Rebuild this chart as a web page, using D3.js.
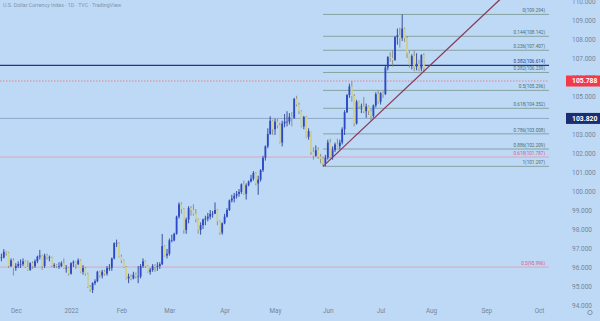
<!DOCTYPE html>
<html lang="en">
<head>
<meta charset="UTF-8">
<title>U.S. Dollar Currency Index</title>
<script src="https://d3js.org/d3.v7.min.js"></script>
<style>
    html, body {
    margin:0;
    padding:0;
    background:#bdd9f6;
    }
    svg {
    display:block;
    font-family: Roboto, "Liberation Sans", sans-serif;
    }
</style>
</head>
<body>
<svg width="600" height="321"></svg>
<script>
// daily candles, Nov 19 2021 -> Jul 27 2022 (weekdays)
var firstDay = "2021-11-19";
var opens = [
95.55,96.05,96.50,96.50,96.80,96.75,96.05,96.35,
95.95,96.05,96.15,96.15,96.30,96.00,95.85,96.20,96.05,96.30,96.55,96.60,96.05,96.60,96.50,96.50,96.05,96.10,96.05,96.05,96.20,95.95,95.95,
95.65,96.20,96.25,96.15,96.35,95.75,95.95,95.65,94.95,94.80,95.15,95.25,95.75,95.55,95.75,95.65,95.95,95.95,96.45,97.25,97.25,
96.55,96.35,96.00,95.40,95.50,95.40,95.60,95.50,95.50,96.05,96.30,96.05,95.75,95.85,96.05,96.00,96.05,96.15,97.10,96.60,
96.70,97.40,97.40,97.75,98.65,99.30,99.05,97.95,98.50,99.10,99.00,98.80,98.50,97.95,98.20,98.50,98.55,98.65,98.80,98.80,99.00,98.40,97.80,
98.30,98.65,99.00,99.50,99.60,99.75,99.85,99.95,100.35,99.85,100.30,100.50,100.65,100.95,100.40,100.60,101.10,101.75,102.35,103.00,103.70,
103.25,103.65,103.45,102.55,103.55,103.65,103.65,103.90,103.85,104.85,104.55,104.20,103.40,103.90,102.85,103.15,102.05,101.85,102.15,101.80,101.70,101.45,
101.75,102.55,101.80,102.15,102.45,102.35,102.55,103.25,104.15,105.05,105.50,105.00,103.55,104.70,104.45,104.45,104.20,104.45,104.20,103.95,104.50,105.10,
104.70,105.15,105.10,106.50,107.05,107.00,106.90,108.10,108.20,108.05,108.55,108.05,107.25,106.65,107.10,106.55,106.70,106.45,107.15
];
var highs = [
96.20,96.55,96.70,96.94,96.85,96.80,96.45,96.45,
96.20,96.30,96.40,96.45,96.35,96.35,96.25,96.30,96.40,96.60,96.90,96.65,96.70,96.70,96.60,96.55,96.20,96.15,96.25,96.30,96.45,96.10,96.00,
96.25,96.35,96.30,96.45,96.40,96.10,96.00,95.70,95.05,95.20,95.35,95.80,95.80,95.85,95.85,96.05,96.15,96.50,97.30,97.44,97.30,
96.65,96.40,96.05,95.65,95.60,95.75,95.70,96.05,96.15,96.45,96.35,96.10,95.95,96.15,96.15,96.25,96.25,97.74,97.15,96.95,
97.50,97.70,97.80,98.70,99.40,99.40,99.10,98.60,99.20,99.20,99.30,99.05,98.55,98.35,98.55,98.70,98.85,99.00,98.95,99.40,99.05,98.45,98.35,
98.80,99.10,99.55,99.80,99.90,100.00,100.10,100.40,100.55,100.40,100.55,100.85,101.05,101.00,100.80,101.15,101.85,102.40,103.30,103.93,103.75,
103.80,103.80,103.60,103.70,104.05,104.20,104.10,104.15,104.90,105.01,104.65,104.25,103.95,103.95,103.30,103.15,102.30,102.40,102.30,101.95,101.80,101.90,
102.70,102.75,102.35,102.55,102.75,102.70,103.35,104.25,105.10,105.65,105.79,105.10,104.80,104.75,104.60,104.95,104.60,104.50,104.30,104.55,105.20,105.30,
105.20,105.25,106.60,107.10,107.30,107.40,108.15,108.55,108.60,109.294,108.60,108.15,107.40,107.20,107.40,107.25,106.90,107.20,107.25
];
var lows = [
95.50,95.95,96.30,96.45,96.60,95.95,96.00,95.55,
95.80,95.95,95.95,96.05,95.95,95.80,95.80,95.90,95.95,96.20,96.40,95.85,95.95,96.40,96.30,96.00,95.95,95.95,95.90,96.00,95.90,95.70,95.55,
95.60,96.00,95.90,96.10,95.70,95.60,95.55,94.90,94.70,94.63,95.05,95.20,95.45,95.40,95.55,95.55,95.80,95.80,96.40,97.05,96.50,
96.20,95.95,95.35,95.15,95.30,95.35,95.40,95.15,95.40,95.95,95.95,95.70,95.60,95.75,95.75,95.80,95.90,96.10,96.55,96.45,
96.60,97.30,97.35,97.70,98.55,98.80,97.75,97.75,98.30,98.70,98.70,98.35,97.75,97.70,98.00,98.20,98.40,98.50,98.60,98.80,98.20,97.70,97.70,
98.25,98.60,98.95,99.40,99.40,99.60,99.70,99.85,99.80,99.55,100.25,100.45,100.55,100.30,99.80,100.50,101.00,101.60,102.25,102.95,102.95,
102.95,103.30,102.50,102.35,103.35,103.40,103.50,103.40,103.80,104.45,104.05,103.35,103.25,102.80,102.70,101.90,101.65,101.80,101.70,101.45,101.297,101.30,
101.65,101.70,101.65,102.05,102.30,102.20,102.45,102.95,104.10,104.90,104.70,103.40,103.50,104.35,104.10,104.10,103.85,104.00,103.70,103.85,104.40,104.60,
104.55,104.90,105.05,106.35,106.80,106.55,106.85,107.70,107.55,107.90,107.85,107.00,106.50,106.40,106.30,106.35,106.30,106.30,106.25
];
var closes = [
96.05,96.50,96.50,96.80,96.75,96.05,96.35,95.95,
96.05,96.15,96.15,96.30,96.00,95.85,96.20,96.05,96.30,96.55,96.60,96.05,96.60,96.50,96.50,96.05,96.10,96.05,96.05,96.20,95.95,95.95,95.65,
96.20,96.25,96.15,96.35,95.75,95.95,95.65,94.95,94.80,95.15,95.25,95.75,95.55,95.75,95.65,95.95,95.95,96.45,97.25,97.25,96.55,
96.35,96.00,95.40,95.50,95.40,95.60,95.50,95.50,96.05,96.30,96.05,95.75,95.85,96.05,96.00,96.05,96.15,97.10,96.60,96.70,
97.40,97.40,97.75,98.65,99.30,99.05,97.95,98.50,99.10,99.00,98.80,98.50,97.95,98.20,98.50,98.55,98.65,98.80,98.80,99.00,98.40,97.80,98.30,
98.65,99.00,99.50,99.60,99.75,99.85,99.95,100.35,99.85,100.30,100.50,100.65,100.95,100.40,100.60,101.10,101.75,102.35,103.00,103.70,103.25,
103.65,103.45,102.55,103.55,103.65,103.65,103.90,103.85,104.85,104.55,104.20,103.40,103.90,102.85,103.15,102.05,101.85,102.15,101.80,101.70,101.45,101.75,
102.55,101.80,102.15,102.45,102.35,102.55,103.25,104.15,105.05,105.50,105.00,103.55,104.70,104.45,104.45,104.20,104.45,104.20,103.95,104.50,105.10,104.70,
105.15,105.10,106.50,107.05,107.00,106.90,108.10,108.20,108.05,108.55,108.05,107.25,106.65,107.10,106.55,106.70,106.45,107.15,106.45
];

// fibonacci retracement, May 30 low -> Jul 14 high
var fibStart = "2022-05-30";
var fibLevels = ["0", "0.144", "0.236", "0.382", "0.5", "0.618", "0.786", "0.886", "1"];
var fibPrices = [109.294, 108.142, 107.407, 106.239, 105.296, 104.352, 103.008, 102.209, 101.297];

// full width horizontal levels
var levelNames = ["0.382", "0.618", "0.5", "", ""];
var levelPrices = [106.614, 101.787, 95.996, 103.820, 105.788];
var levelColors = ["#1d3a8f", "#e3a3b8", "#d9a7bb", "#8fa8c6", "#ec7f8f"];

// rising trendline
var trendDates = ["2022-05-30", "2022-07-27"];
var trendPrices = [101.297, 106.30];

// price tags on the axis
var tagPrices = [105.788, 103.820];
var tagColors = ["#f23a4b", "#1b2d72"];

var monthDates = ["2021-12-01", "2022-01-03", "2022-02-01", "2022-03-01", "2022-04-01", "2022-05-02",
    "2022-06-01", "2022-07-01", "2022-08-01", "2022-09-01", "2022-10-03"];
var monthLabels = ["Dec", "2022", "Feb", "Mar", "Apr", "May", "Jun", "Jul", "Aug", "Sep", "Oct"];
var priceTicks = d3.range(94, 111);

var svg = d3.select("svg");
var plotRight = 549;

var parse = d3.utcParse("%Y-%m-%d");
var fmt = d3.utcFormat("%Y-%m-%d");
var days = d3.utcDay.range(parse(firstDay), parse("2022-10-31"))
    .filter(function(d) { return d.getUTCDay() % 6 !== 0; })
    .map(fmt);
function idx(s) { return days.indexOf(s); }

var x = d3.scaleLinear().domain([0, 230]).range([-3.4, -3.4 + 230 * 2.4]);
var y = d3.scaleLinear().domain([94, 110]).range([305, 1]);

svg.append("defs").append("clipPath").attr("id", "plot")
    .append("rect").attr("x", 0).attr("y", 0).attr("width", plotRight).attr("height", 307);

var g = svg.append("g").attr("clip-path", "url(#plot)");

// title
svg.append("text")
    .attr("x", 3).attr("y", 7)
    .attr("font-size", 5.3)
    .attr("fill", "#8494a6")
    .text("U.S. Dollar Currency Index · 1D · TVC · TradingView");

// full width levels
g.selectAll(".level")
    .data(levelPrices)
    .enter().append("line")
    .attr("x1", 0).attr("x2", plotRight)
    .attr("y1", function(d) { return y(d); })
    .attr("y2", function(d) { return y(d); })
    .attr("stroke", function(d, i) { return levelColors[i]; })
    .attr("stroke-width", function(d, i) { return i === 0 ? 1.4 : 1; })
    .attr("stroke-dasharray", function(d, i) { return i === 4 ? "1.5,1.5" : null; });

svg.selectAll(".levelLabel")
    .data(levelPrices.slice(0, 3))
    .enter().append("text")
    .attr("x", plotRight - 4)
    .attr("y", function(d) { return y(d) - 2; })
    .attr("text-anchor", "end")
    .attr("font-size", 4.6)
    .attr("fill", function(d, i) { return i === 0 ? "#1d3a8f" : "#d45b86"; })
    .text(function(d, i) { return levelNames[i] + "(" + d.toFixed(3) + ")"; });

// fib lines
var fx = x(idx(fibStart));
g.selectAll(".fib")
    .data(fibPrices)
    .enter().append("line")
    .attr("x1", fx).attr("x2", plotRight)
    .attr("y1", function(d) { return y(d); })
    .attr("y2", function(d) { return y(d); })
    .attr("stroke", "#86a3a2")
    .attr("stroke-width", 1);

svg.selectAll(".fibLabel")
    .data(fibPrices)
    .enter().append("text")
    .attr("x", plotRight - 4)
    .attr("y", function(d) { return y(d) - 2; })
    .attr("text-anchor", "end")
    .attr("font-size", 4.6)
    .attr("fill", "#4f6d6c")
    .text(function(d, i) { return fibLevels[i] + "(" + d.toFixed(3) + ")"; });

// candles
var candles = g.selectAll(".candle")
    .data(closes)
    .enter().append("g");

candles.append("line")
    .attr("x1", function(d, i) { return x(i); })
    .attr("x2", function(d, i) { return x(i); })
    .attr("y1", function(d, i) { return y(highs[i]); })
    .attr("y2", function(d, i) { return y(lows[i]); })
    .attr("stroke", function(d, i) { return d >= opens[i] ? "#1c2d86" : "#7f8268"; })
    .attr("stroke-width", 0.8);

candles.append("rect")
    .attr("x", function(d, i) { return x(i) - 0.9; })
    .attr("width", 1.8)
    .attr("y", function(d, i) { return y(Math.max(d, opens[i])); })
    .attr("height", function(d, i) { return Math.max(0.6, Math.abs(y(d) - y(opens[i]))); })
    .attr("fill", function(d, i) { return d >= opens[i] ? "#2b48c8" : "#d2d291"; });

// trendline, extended to the right
var t0 = idx(trendDates[0]), t1 = idx(trendDates[1]);
var slope = (trendPrices[1] - trendPrices[0]) / (t1 - t0);
g.append("line")
    .attr("x1", x(t0)).attr("y1", y(trendPrices[0]))
    .attr("x2", x(t0 + 100)).attr("y2", y(trendPrices[0] + slope * 100))
    .attr("stroke", "#8a3a58")
    .attr("stroke-width", 1.3);

// right price axis
var yAxis = svg.append("g")
    .attr("transform", "translate(572,0)")
    .call(d3.axisRight(y).tickValues(priceTicks).tickFormat(d3.format(".3f")).tickSize(0).tickPadding(0));
yAxis.select(".domain").remove();
yAxis.selectAll("text").attr("font-size", 6.5).attr("fill", "#75859a").attr("font-family", "Roboto, sans-serif");

// price tags
var tags = svg.selectAll(".tag")
    .data(tagPrices)
    .enter().append("g")
    .attr("transform", function(d) { return "translate(566," + y(d) + ")"; });
tags.append("rect")
    .attr("x", 0).attr("y", -5.5)
    .attr("width", 34).attr("height", 11)
    .attr("fill", function(d, i) { return tagColors[i]; });
tags.append("text")
    .attr("x", 6).attr("y", 2.4)
    .attr("font-size", 6.8)
    .attr("font-weight", "bold")
    .attr("fill", "#ffffff")
    .text(function(d) { return d.toFixed(3); });

// month axis
var xAxis = svg.append("g")
    .attr("transform", "translate(0,309)")
    .call(d3.axisBottom(x)
        .tickValues(monthDates.map(idx))
        .tickFormat(function(d, i) { return monthLabels[i]; })
        .tickSize(0).tickPadding(0));
xAxis.select(".domain").remove();
xAxis.selectAll("text").attr("font-size", 6.3).attr("fill", "#75859a").attr("font-family", "Roboto, sans-serif");

svg.append("circle")
    .attr("cx", 590).attr("cy", 312.5).attr("r", 2.2)
    .attr("fill", "none").attr("stroke", "#75859a").attr("stroke-width", 0.8);
</script>
</body>
</html>
